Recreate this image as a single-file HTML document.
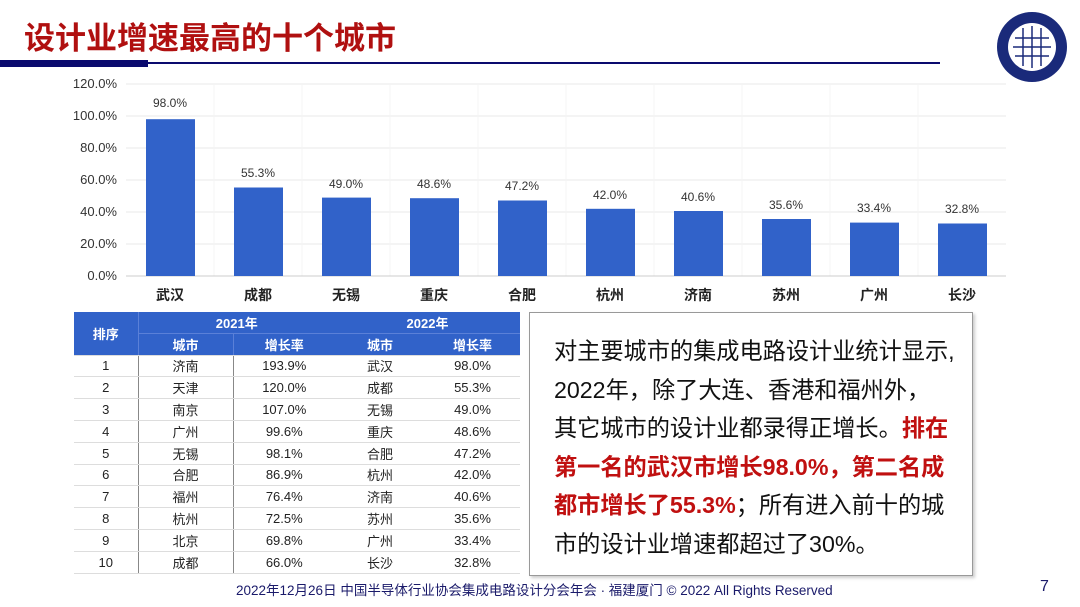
<!DOCTYPE html>
<html><head><meta charset="utf-8"><style>
body{margin:0;width:1080px;height:607px;background:#fff;position:relative;overflow:hidden;font-family:"Liberation Sans","Noto Sans CJK SC",sans-serif}
.a{position:absolute}
table{border-collapse:collapse;font-size:13px;color:#222}
td{height:20.8px;padding:0;text-align:center;border-bottom:1px solid #ddd}
</style></head><body>
<div class="a" style="left:24px;top:13px;font-size:31px;font-weight:bold;color:#b01010">设计业增速最高的十个城市</div>
<div class="a" style="left:0;top:60px;width:148px;height:7px;background:#0a0a6e"></div>
<div class="a" style="left:148px;top:62px;width:792px;height:2px;background:#0a0a6e"></div>
<svg class="a" style="left:0;top:0" width="1080" height="607">
<circle cx="1032" cy="47" r="35" fill="#1a2a7a"/>
<circle cx="1032" cy="47" r="24" fill="#fff"/>
<g stroke="#1a2a7a" stroke-width="1.5">
<line x1="1015" y1="38" x2="1049" y2="38"/><line x1="1013" y1="47" x2="1051" y2="47"/><line x1="1015" y1="56" x2="1049" y2="56"/>
<line x1="1023" y1="28" x2="1023" y2="66"/><line x1="1032" y1="26" x2="1032" y2="68"/><line x1="1041" y1="28" x2="1041" y2="66"/>
</g>
<g stroke="#e8e8e8" stroke-width="1">
<line x1="126" y1="84" x2="1006" y2="84"/><line x1="126" y1="116" x2="1006" y2="116"/><line x1="126" y1="148" x2="1006" y2="148"/><line x1="126" y1="180" x2="1006" y2="180"/><line x1="126" y1="212" x2="1006" y2="212"/><line x1="126" y1="244" x2="1006" y2="244"/>
</g>
<g stroke="#f4f4f4" stroke-width="1">
<line x1="214" y1="84" x2="214" y2="276"/><line x1="302" y1="84" x2="302" y2="276"/><line x1="390" y1="84" x2="390" y2="276"/><line x1="478" y1="84" x2="478" y2="276"/><line x1="566" y1="84" x2="566" y2="276"/><line x1="654" y1="84" x2="654" y2="276"/><line x1="742" y1="84" x2="742" y2="276"/><line x1="830" y1="84" x2="830" y2="276"/><line x1="918" y1="84" x2="918" y2="276"/>
</g>
<g font-size="13" fill="#333" text-anchor="end">
<text x="117" y="88">120.0%</text><text x="117" y="120">100.0%</text><text x="117" y="152">80.0%</text><text x="117" y="184">60.0%</text><text x="117" y="216">40.0%</text><text x="117" y="248">20.0%</text><text x="117" y="280">0.0%</text>
</g>
<line x1="126" y1="276" x2="1006" y2="276" stroke="#ccc"/>
<g fill="#3162c9">
<rect x="146" y="119.2" width="49" height="156.8"/>
<rect x="234" y="187.5" width="49" height="88.5"/>
<rect x="322" y="197.6" width="49" height="78.4"/>
<rect x="410" y="198.2" width="49" height="77.8"/>
<rect x="498" y="200.5" width="49" height="75.5"/>
<rect x="586" y="208.8" width="49" height="67.2"/>
<rect x="674" y="211" width="49" height="65"/>
<rect x="762" y="219" width="49" height="57"/>
<rect x="850" y="222.6" width="49" height="53.4"/>
<rect x="938" y="223.5" width="49" height="52.5"/>
</g>
<g font-size="12" fill="#333" text-anchor="middle">
<text x="170" y="107">98.0%</text><text x="258" y="177">55.3%</text><text x="346" y="188">49.0%</text><text x="434" y="188">48.6%</text><text x="522" y="190">47.2%</text><text x="610" y="199">42.0%</text><text x="698" y="201">40.6%</text><text x="786" y="209">35.6%</text><text x="874" y="212">33.4%</text><text x="962" y="213">32.8%</text>
</g>
<g font-size="14" font-weight="bold" fill="#222" text-anchor="middle">
<text x="170" y="300">武汉</text><text x="258" y="300">成都</text><text x="346" y="300">无锡</text><text x="434" y="300">重庆</text><text x="522" y="300">合肥</text><text x="610" y="300">杭州</text><text x="698" y="300">济南</text><text x="786" y="300">苏州</text><text x="874" y="300">广州</text><text x="962" y="300">长沙</text>
</g>
</svg>
<table class="a" style="left:74px;top:312px;width:446px">
<colgroup><col style="width:64px"><col style="width:95px"><col style="width:102px"><col style="width:90px"><col style="width:95px"></colgroup>
<tr style="background:#3162c9;color:#fff;font-weight:bold"><td rowspan="2" style="border-right:1px solid #5a80d8">排序</td><td colspan="2" style="border-bottom:1px solid #5a80d8">2021年</td><td colspan="2" style="border-bottom:1px solid #5a80d8">2022年</td></tr>
<tr style="background:#3162c9;color:#fff;font-weight:bold"><td style="border-right:1px solid #5a80d8">城市</td><td>增长率</td><td>城市</td><td>增长率</td></tr>
<tr><td style="border-right:1px solid #888">1</td><td style="border-right:1px solid #888">济南</td><td>193.9%</td><td>武汉</td><td>98.0%</td></tr>
<tr><td style="border-right:1px solid #888">2</td><td style="border-right:1px solid #888">天津</td><td>120.0%</td><td>成都</td><td>55.3%</td></tr>
<tr><td style="border-right:1px solid #888">3</td><td style="border-right:1px solid #888">南京</td><td>107.0%</td><td>无锡</td><td>49.0%</td></tr>
<tr><td style="border-right:1px solid #888">4</td><td style="border-right:1px solid #888">广州</td><td>99.6%</td><td>重庆</td><td>48.6%</td></tr>
<tr><td style="border-right:1px solid #888">5</td><td style="border-right:1px solid #888">无锡</td><td>98.1%</td><td>合肥</td><td>47.2%</td></tr>
<tr><td style="border-right:1px solid #888">6</td><td style="border-right:1px solid #888">合肥</td><td>86.9%</td><td>杭州</td><td>42.0%</td></tr>
<tr><td style="border-right:1px solid #888">7</td><td style="border-right:1px solid #888">福州</td><td>76.4%</td><td>济南</td><td>40.6%</td></tr>
<tr><td style="border-right:1px solid #888">8</td><td style="border-right:1px solid #888">杭州</td><td>72.5%</td><td>苏州</td><td>35.6%</td></tr>
<tr><td style="border-right:1px solid #888">9</td><td style="border-right:1px solid #888">北京</td><td>69.8%</td><td>广州</td><td>33.4%</td></tr>
<tr><td style="border-right:1px solid #888">10</td><td style="border-right:1px solid #888">成都</td><td>66.0%</td><td>长沙</td><td>32.8%</td></tr>
</table>
<div class="a" style="left:529px;top:312px;width:442px;height:262px;border:1px solid #999;box-shadow:2px 2px 3px #ccc"></div>
<div class="a" style="left:554px;top:332px;width:420px;font-size:23.2px;line-height:38.5px;color:#111;white-space:nowrap">对主要城市的集成电路设计业统计显示,<br>2022年，除了大连、香港和福州外，<br>其它城市的设计业都录得正增长。<b style="color:#c01010">排在<br>第一名的武汉市增长98.0%，第二名成<br>都市增长了55.3%</b>；所有进入前十的城<br>市的设计业增速都超过了30%。</div>
<div class="a" style="left:236px;top:579px;font-size:13.5px;color:#1a1a6a;white-space:nowrap">2022年12月26日 中国半导体行业协会集成电路设计分会年会 · 福建厦门 © 2022 All Rights Reserved</div>
<div class="a" style="left:1040px;top:578px;font-size:16px;color:#1a1a6a">7</div>
</body></html>
